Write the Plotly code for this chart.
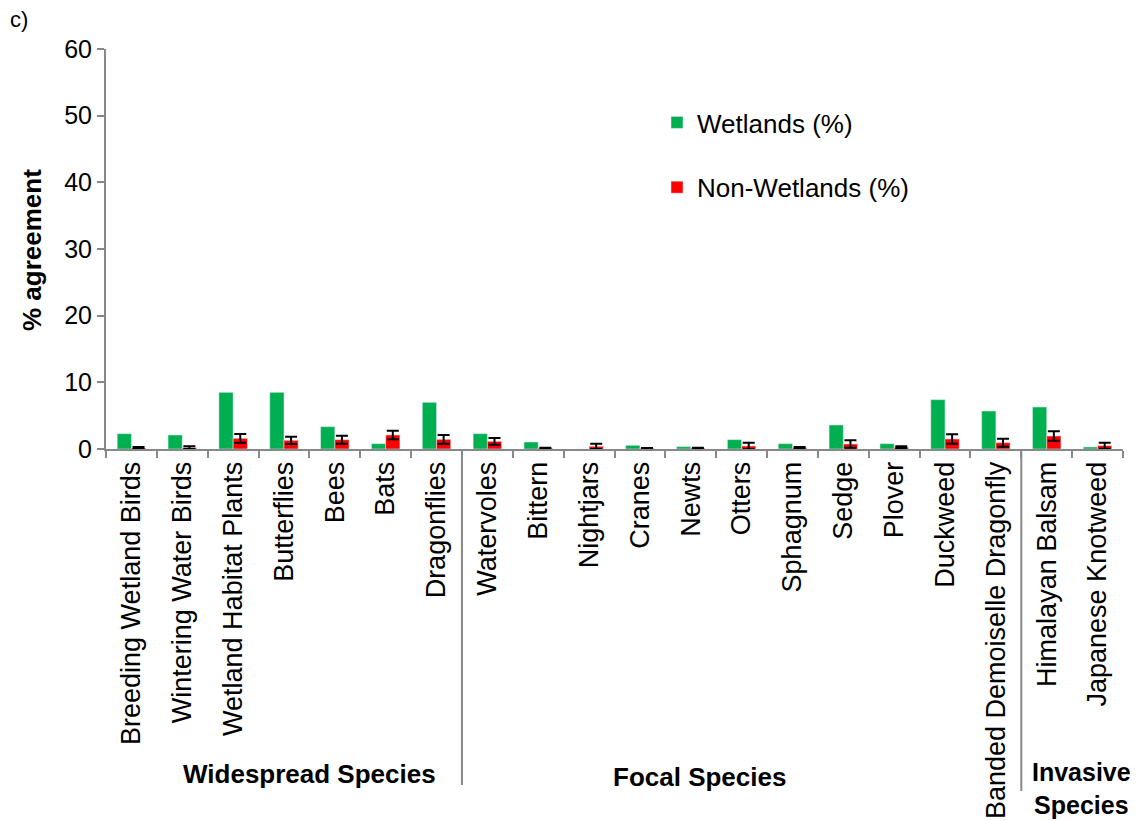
import plotly.graph_objects as go

categories = [
    "Breeding Wetland Birds", "Wintering Water Birds", "Wetland Habitat Plants",
    "Butterflies", "Bees", "Bats", "Dragonflies",
    "Watervoles", "Bittern", "Nightjars", "Cranes", "Newts", "Otters",
    "Sphagnum", "Sedge", "Plover", "Duckweed", "Banded Demoiselle Dragonfly",
    "Himalayan Balsam", "Japanese Knotweed",
]
wetlands = [2.3, 2.1, 8.5, 8.5, 3.35, 0.8, 7.0,
            2.3, 1.05, 0.0, 0.55, 0.35, 1.4, 0.8, 3.6, 0.8, 7.4, 5.7,
            6.3, 0.3]
non_wetlands = [0.15, 0.2, 1.6, 1.3, 1.4, 2.1, 1.45,
                1.15, 0.15, 0.4, 0.1, 0.15, 0.45, 0.2, 0.75, 0.25, 1.5, 0.95,
                1.95, 0.5]
non_wetlands_err = [0.15, 0.2, 0.65, 0.55, 0.6, 0.65, 0.65,
                    0.5, 0.05, 0.4, 0.05, 0.05, 0.5, 0.1, 0.55, 0.15, 0.7, 0.6,
                    0.7, 0.45]

groups = ["Widespread Species", "Focal Species", "Invasive<br>Species"]
group_sizes = [7, 11, 2]

FONT = "Arial, Liberation Sans, sans-serif"
GRAY = "#888888"
GREEN = "#00B050"
RED = "#FF0000"

# page body has an 8px default margin
OFF = 8
W, H = 1140 - OFF, 821 - OFF
L, R, T = 106 - OFF, 17, 49 - OFF
PW = W - L - R
PH = 400
B = H - T - PH


def px(xp):
    return (xp - OFF - L) / PW


def py(yp):
    return (T + PH - (yp - OFF)) / PH


fig = go.Figure()
fig.add_trace(go.Bar(
    x=categories, y=wetlands, name="Wetlands (%)", marker_color=GREEN,
    legendgroup="a",
))
fig.add_trace(go.Bar(
    x=categories, y=non_wetlands, name="Non-Wetlands (%)", marker_color=RED,
    legendgroup="b",
    error_y=dict(type="data", array=non_wetlands_err, visible=True,
                 color="black", thickness=2, width=6),
))

n = len(categories)
bounds = []
acc = 0
for s in group_sizes[:-1]:
    acc += s
    bounds.append(acc / n)
sep_bottoms = [py(785), py(791)]
shapes = []
for b, yb in zip(bounds, sep_bottoms):
    shapes.append(dict(type="line", xref="paper", yref="paper",
                       x0=b, x1=b, y0=0, y1=yb,
                       line=dict(color=GRAY, width=2)))

group_pos = [(309, 774, 26), (699, 777, 26), (1081, 788, 25)]
annotations = []
for g, (gx, gy, fs) in zip(groups, group_pos):
    annotations.append(dict(
        text="<b>" + g + "</b>", xref="paper", yref="paper",
        x=px(gx), y=py(gy), showarrow=False,
        font=dict(family=FONT, size=fs, color="black"),
        xanchor="center", yanchor="middle"))
annotations.append(dict(
    text="<b>% agreement</b>", xref="paper", yref="paper",
    x=px(32), y=py(250), textangle=-90, showarrow=False,
    font=dict(family=FONT, size=26, color="black"),
    xanchor="center", yanchor="middle"))
annotations.append(dict(
    text="c)", xref="paper", yref="paper",
    x=px(8), y=py(20), showarrow=False,
    font=dict(family=FONT, size=22, color="black"),
    xanchor="left", yanchor="middle"))

fig.update_layout(
    width=W, height=H,
    margin=dict(l=L, r=R, t=T, b=B),
    paper_bgcolor="white", plot_bgcolor="white",
    font=dict(family=FONT, color="black"),
    barmode="group", bargap=0.44, bargroupgap=0,
    showlegend=True,
    legend=dict(x=px(657), y=py(99), xanchor="left", yanchor="top",
                traceorder="grouped", tracegroupgap=28,
                font=dict(family=FONT, size=26, color="black"),
                bgcolor="rgba(0,0,0,0)"),
    shapes=shapes,
    annotations=annotations,
)
fig.update_xaxes(
    type="category", tickangle=-90, tickson="boundaries",
    ticks="outside", ticklen=7, tickcolor=GRAY, tickwidth=2,
    showline=True, linecolor=GRAY, linewidth=2,
    showgrid=False, automargin=False,
    tickfont=dict(family=FONT, size=27, color="black"),
)
fig.update_yaxes(
    range=[0, 60], dtick=10, tick0=0,
    ticks="outside", ticklen=7, tickcolor=GRAY, tickwidth=2,
    showline=True, linecolor=GRAY, linewidth=2,
    showgrid=False, zeroline=False, automargin=False,
    tickfont=dict(family=FONT, size=25, color="black"),
)

fig.write_html("out.html")
